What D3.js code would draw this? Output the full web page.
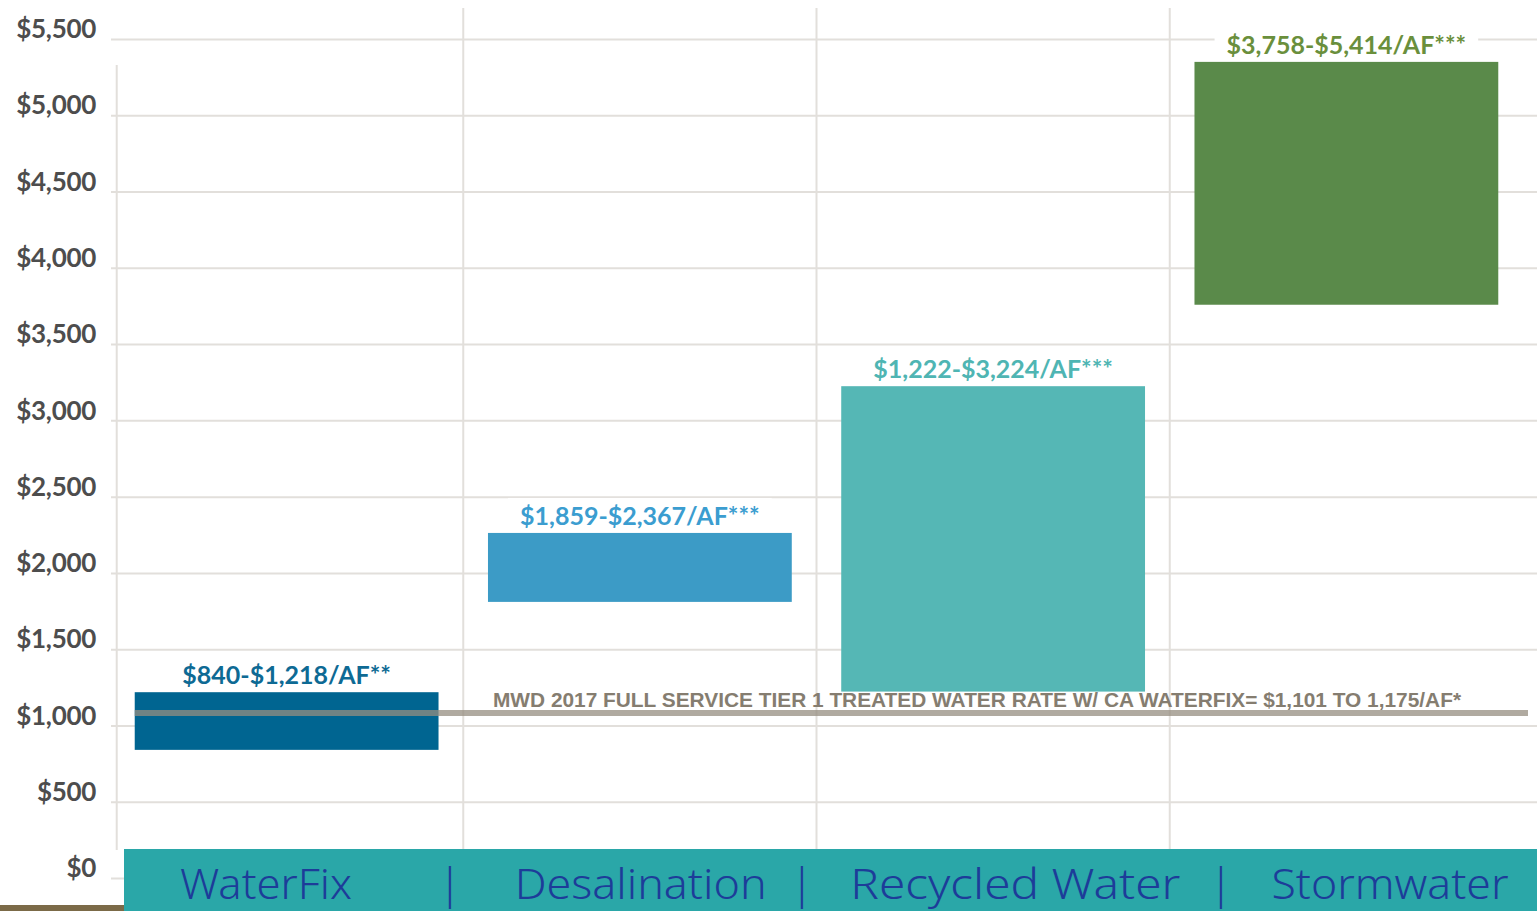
<!DOCTYPE html>
<html><head><meta charset="utf-8">
<script src="https://cdn.jsdelivr.net/npm/d3@7"></script>
<style>
html,body{margin:0;padding:0;background:#fff;overflow:hidden;}
svg{display:block;}
</style></head>
<body>
<svg id="chart" width="1537" height="911"></svg>
<script>
// ---- data ----
const categories = ["WaterFix", "Desalination", "Recycled Water", "Stormwater"];
const costLow  = [840, 1810, 1222, 3758];   // bar bottoms ($/AF) as drawn
const costHigh = [1218, 2262, 3224, 5350];  // bar tops ($/AF) as drawn
const rangeLabels = ["$840-$1,218/AF**", "$1,859-$2,367/AF***", "$1,222-$3,224/AF***", "$3,758-$5,414/AF***"];
const tickValues = [0, 500, 1000, 1500, 2000, 2500, 3000, 3500, 4000, 4500, 5000, 5500];
const mwdRate = [1082];
const mwdLabel = "MWD 2017 FULL SERVICE TIER 1 TREATED WATER RATE W/ CA WATERFIX= $1,101 TO 1,175/AF*";

const barColors = ["#006591", "#3c9bc6", "#55b7b5", "#5a8a4a"];
const labelColors = ["#0e6a94", "#3b9dd0", "#4fb5b3", "#6a8f3c"];

const svg = d3.select("#chart");
const W = 1537, H = 911;

const y = d3.scaleLinear().domain([0, 5500]).range([878, 39]);
const x = d3.scaleBand().domain(categories).range([110, 1523]).paddingInner(0.14).paddingOuter(0.07);
const step = x.step(), bw = x.bandwidth();

// horizontal gridlines + tick labels
const yAxis = d3.axisLeft(y).tickValues(tickValues).tickSize(-(W - 111)).tickFormat(d => "$" + d3.format(",")(d));
const gAxis = svg.append("g").attr("transform", "translate(111,0)").call(yAxis);
gAxis.select(".domain").remove();
gAxis.selectAll(".tick line").attr("stroke", "#e2dfdb").attr("stroke-width", 2);
gAxis.selectAll(".tick text")
  .attr("x", -15).attr("dy", "-0.05em")
  .attr("fill", "#4d4d4d")
  .style("font-family", "Lato, sans-serif").style("font-weight", 700).style("font-size", "26px")
  .style("letter-spacing", "-0.3px");

// vertical gridlines
const vx = [x(categories[0]) - 18].concat(categories.slice(0, 3).map(c => x(c) + bw + step * 0.07));
svg.append("g").selectAll("line").data(vx).join("line")
  .attr("x1", d => d).attr("x2", d => d)
  .attr("y1", (d, i) => i === 0 ? 65 : 8).attr("y2", 850)
  .attr("stroke", "#e2dfdb").attr("stroke-width", 2);

// label backgrounds + labels
const labelG = svg.append("g");
categories.forEach((c, i) => {
  const cx = x(c) + bw / 2;
  const by = y(costHigh[i]) - 8;
  const t = labelG.append("text")
    .attr("x", cx).attr("y", by).attr("text-anchor", "middle")
    .attr("fill", labelColors[i])
    .style("font-family", "Lato, sans-serif").style("font-weight", 700).style("font-size", "25px")
    .style("letter-spacing", "0px")
    .text(rangeLabels[i]);
  const bb = t.node().getBBox();
  labelG.insert("rect", "text").attr("x", bb.x - 12).attr("y", bb.y - 2).attr("width", bb.width + 24).attr("height", bb.height)
    .attr("fill", "#fff");
});

// bars
svg.append("g").selectAll("rect").data(categories).join("rect")
  .attr("x", d => x(d))
  .attr("width", bw)
  .attr("y", (d, i) => y(costHigh[i]))
  .attr("height", (d, i) => y(costLow[i]) - y(costHigh[i]))
  .attr("fill", (d, i) => barColors[i]);

// MWD rate line
svg.append("g").selectAll("line").data(mwdRate).join("line")
  .attr("x1", x(categories[0])).attr("x2", 1528)
  .attr("y1", d => y(d)).attr("y2", d => y(d))
  .attr("stroke", "#968e80").attr("stroke-opacity", 0.75).attr("stroke-width", 6);
svg.append("text")
  .attr("x", 493).attr("y", y(mwdRate[0]) - 6)
  .attr("fill", "#857d70")
  .attr("textLength", 968).attr("lengthAdjust", "spacingAndGlyphs")
  .style("font-family", "'Liberation Sans Narrow', 'Liberation Sans', sans-serif").style("font-weight", 700).style("font-size", "21px")
  .text(mwdLabel);

// bottom banner
svg.append("rect").attr("x", 0).attr("y", 905).attr("width", 124).attr("height", 6).attr("fill", "#7b6a48");
svg.append("rect").attr("x", 124).attr("y", 849).attr("width", W - 124).attr("height", H - 849).attr("fill", "#2aa7a8");
const bx = d3.scalePoint().domain(categories).range([266, 1390]);
const bannerWidths = {"WaterFix": 172, "Desalination": 252, "Recycled Water": 330, "Stormwater": 237};
const bannerG = svg.append("g").style("font-family", "'Noto Sans', sans-serif").style("font-size", "43px").attr("fill", "#1d3c99");
bannerG.selectAll("text.cat").data(categories).join("text").attr("class", "cat")
  .attr("x", d => bx(d)).attr("y", 899).attr("text-anchor", "middle")
  .attr("textLength", d => bannerWidths[d]).attr("lengthAdjust", "spacingAndGlyphs")
  .style("font-weight", 300)
  .text(d => d);
const seps = d3.pairs(categories).map(([a, b], i) => [450, 802, 1221][i]);
bannerG.selectAll("text.sep").data(seps).join("text").attr("class", "sep")
  .attr("x", d => d).attr("y", 899).attr("text-anchor", "middle").style("font-weight", 300)
  .text("|");
</script>
</body></html>
